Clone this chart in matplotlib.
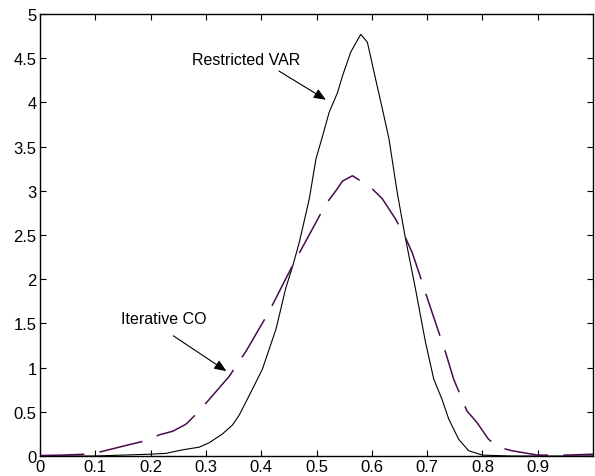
import matplotlib
matplotlib.use("Agg")
import matplotlib.pyplot as plt

# Restricted VAR (solid)
solid_x = [0.0, 0.1, 0.198, 0.228, 0.258, 0.288, 0.306, 0.33, 0.348, 0.36, 0.378, 0.402, 0.427,
           0.444, 0.457, 0.469, 0.487, 0.499, 0.511, 0.523, 0.538, 0.547, 0.562, 0.580, 0.592,
           0.607, 0.619, 0.631, 0.646, 0.660, 0.673, 0.679, 0.697, 0.712, 0.727, 0.739, 0.757,
           0.775, 0.80, 0.85, 1.0]
solid_y = [0.0, 0.0, 0.02, 0.03, 0.07, 0.10, 0.15, 0.25, 0.35, 0.46, 0.68, 0.98, 1.44,
           1.89, 2.15, 2.42, 2.91, 3.36, 3.62, 3.89, 4.11, 4.30, 4.57, 4.77, 4.68,
           4.26, 3.93, 3.59, 2.98, 2.49, 2.08, 1.89, 1.29, 0.87, 0.64, 0.42, 0.19,
           0.06, 0.01, 0.0, 0.0]

# Iterative CO (dashed)
dashed_x = [0.0, 0.04, 0.08, 0.111, 0.156, 0.189, 0.216, 0.24, 0.264, 0.285, 0.306, 0.342,
            0.373, 0.414, 0.444, 0.463, 0.478, 0.517, 0.535, 0.547, 0.565, 0.598, 0.619,
            0.643, 0.661, 0.673, 0.685, 0.699, 0.733, 0.748, 0.772, 0.790, 0.811, 0.829,
            0.853, 0.9, 0.95, 1.0]
dashed_y = [0.005, 0.01, 0.02, 0.05, 0.12, 0.17, 0.24, 0.28, 0.36, 0.49, 0.64, 0.9,
            1.19, 1.63, 2.0, 2.23, 2.40, 2.85, 3.00, 3.11, 3.17, 3.04, 2.91,
            2.68, 2.47, 2.30, 2.08, 1.81, 1.18, 0.87, 0.51, 0.38, 0.19, 0.10,
            0.06, 0.01, 0.01, 0.02]

x_ticks = [0, 0.1, 0.2, 0.3, 0.4, 0.5, 0.6, 0.7, 0.8, 0.9]
x_labels = ["0", "0.1", "0.2", "0.3", "0.4", "0.5", "0.6", "0.7", "0.8", "0.9"]
y_ticks = [0, 0.5, 1, 1.5, 2, 2.5, 3, 3.5, 4, 4.5, 5]
y_labels = ["0", "0.5", "1", "1.5", "2", "2.5", "3", "3.5", "4", "4.5", "5"]

plt.rcParams['font.family'] = ['Liberation Sans', 'DejaVu Sans']

fig = plt.figure(figsize=(5.95, 4.77), dpi=100)
ax = fig.add_axes([40/595, 20/477, 553/595, 442/477])

ax.plot(solid_x, solid_y, color='black', lw=0.8)
ax.plot(dashed_x, dashed_y, color='#4a0a4e', lw=1.1, linestyle=(0, (29, 10)))

ax.set_xlim(0, 1)
ax.set_ylim(0, 5)
ax.set_xticks(x_ticks)
ax.set_xticklabels(x_labels)
ax.set_yticks(y_ticks)
ax.set_yticklabels(y_labels)
ax.tick_params(direction='in', top=True, right=True, length=4, width=0.8,
               labelsize=12, pad=2.5)
for s in ax.spines.values():
    s.set_linewidth(1.0)

arrow = dict(arrowstyle='-|>,head_length=0.6,head_width=0.25', color='black',
             lw=0.8, mutation_scale=12, shrinkA=0, shrinkB=0)

ax.text(0.373, 4.49, "Restricted VAR", ha='center', va='center', fontsize=11.5)
ax.annotate("", xy=(0.517, 4.03), xytext=(0.432, 4.355), arrowprops=arrow)

ax.text(0.224, 1.55, "Iterative CO", ha='center', va='center', fontsize=11.5)
ax.annotate("", xy=(0.337, 0.96), xytext=(0.241, 1.36), arrowprops=arrow)

fig.savefig("out.png", dpi=100)
